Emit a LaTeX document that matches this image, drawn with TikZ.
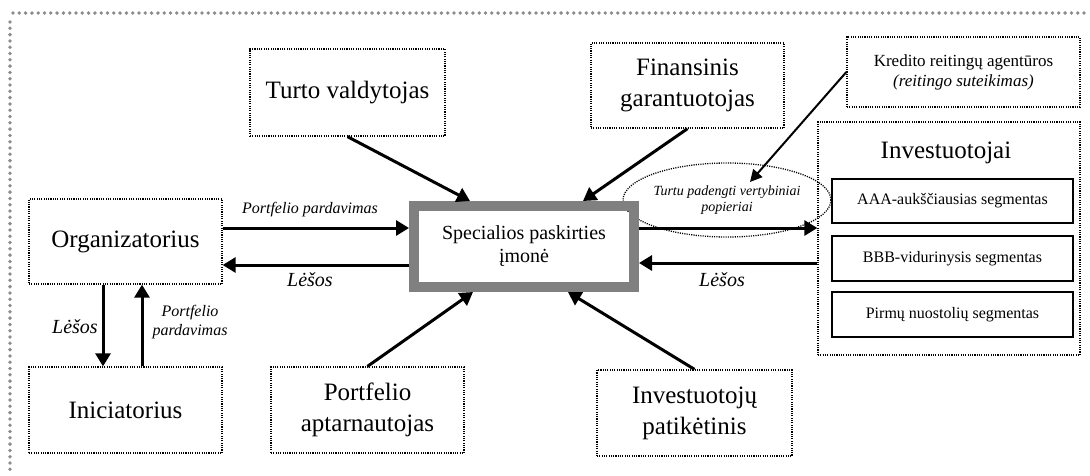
\documentclass[tikz,border=0pt]{standalone}
\usepackage{fontspec}
\setmainfont{Liberation Serif}
\usetikzlibrary{arrows.meta,shapes.geometric,calc}
\definecolor{spvgray}{RGB}{128,128,128}
\definecolor{framegray}{RGB}{140,140,140}
\begin{document}
\begin{tikzpicture}[x=1pt,y=-1pt,
  framedots/.style={draw=framegray,line width=3.8pt,line cap=round,dash pattern=on 0pt off 6.3pt},
  dotbox/.style={draw,line width=1.3pt,dash pattern=on 1.1pt off 1.2pt,inner sep=0pt,align=center},
  segbox/.style={draw,line width=1.8pt,inner sep=0pt,align=center,minimum width=241pt,font=\fontsize{16}{19}\selectfont},
  bigtxt/.style={font=\fontsize{25}{31}\selectfont},
  arr/.style={line width=3pt,-{Triangle[length=13pt,width=15pt]}},
  thinarr/.style={line width=2pt,-{Triangle[length=12pt,width=12pt]}},
  lbl/.style={font=\fontsize{16}{19}\selectfont\itshape,align=center,inner sep=0pt},
  lbig/.style={font=\fontsize{20}{24}\selectfont\itshape,inner sep=0pt}]
\useasboundingbox (0,0) rectangle (1090,475);
% outer frame
\draw[framedots] (13,13) -- (1090,13);
\draw[framedots] (10,22) -- (10,475);
% nodes
\node[dotbox,bigtxt,minimum width=195pt,minimum height=87pt] (tv) at (347.5,92.5) {Turto valdytojas};
\node[dotbox,bigtxt,minimum width=193pt,minimum height=85pt] (fg) at (687.5,85.5) {Finansinis\\garantuotojas};
\node[dotbox,font=\fontsize{17}{20}\selectfont,minimum width=233pt,minimum height=70pt] (kr) at (963.5,72) {Kredito reitingų agentūros\\\textit{(reitingo suteikimas)}};
\node[dotbox,minimum width=262pt,minimum height=233pt] (inv) at (949,238.5) {};
\node[bigtxt,inner sep=0pt] (invt) at (946,153) {Investuotojai};
\node[segbox,minimum height=44pt] (aaa) at (952.5,201) {AAA-aukščiausias segmentas};
\node[segbox,minimum height=45pt] (bbb) at (952.5,258.5) {BBB-vidurinysis segmentas};
\node[segbox,minimum height=45pt] (pir) at (952.5,314.5) {Pirmų nuostolių segmentas};
\node[ellipse,draw,line width=1.3pt,dash pattern=on 1.1pt off 1.2pt,minimum width=169pt,minimum height=74pt,inner sep=0pt,align=center,font=\fontsize{14}{16}\selectfont\itshape] (ell) at (727,200) {Turtu padengti vertybiniai\\popieriai};
\node[dotbox,bigtxt,minimum width=193pt,minimum height=85pt] (org) at (125.5,241.5) {Organizatorius};
\node[dotbox,bigtxt,minimum width=193pt,minimum height=86pt] (ini) at (125.5,410) {Iniciatorius};
\node[dotbox,bigtxt,minimum width=193pt,minimum height=86pt] (pa) at (367.5,410) {Portfelio\\aptarnautojas};
\node[dotbox,bigtxt,minimum width=195pt,minimum height=86pt] (ip) at (694.5,413) {Investuotojų\\patikėtinis};
\node[draw=spvgray,line width=10pt,minimum width=220pt,minimum height=81pt,inner sep=0pt,align=center,font=\fontsize{20}{23}\selectfont] (spv) at (524,246.5) {Specialios paskirties\\įmonė};
% connectors
\draw[arr] (tv.south) -- ($(spv.north west)+(61,0)$);
\draw[arr] (fg.south) -- ($(spv.north west)+(174,0)$);
\draw[arr] (pa.north) -- ($(spv.south west)+(64,0)$);
\draw[arr] (ip.north) -- ($(spv.south west)+(159,0)$);
\draw[thinarr] (kr.west) -- ($(ell.center)+(23,-18)$);
\draw[arr] (org.east |- 0,228) -- (spv.west |- 0,228);
\draw[arr] (spv.west |- 0,265) -- (org.east |- 0,265);
\draw[arr] (spv.east |- 0,228) -- (inv.west |- 0,228);
\draw[arr] (inv.west |- 0,263) -- (spv.east |- 0,263);
\draw[arr] (org.south -| 103,0) -- (ini.north -| 103,0);
\draw[arr] (ini.north -| 142,0) -- (org.south -| 142,0);
% labels
\node[lbl] (l1) at (310,210) {Portfelio pardavimas};
\node[lbig] (l2) at (310,280) {Lėšos};
\node[lbig] (l3) at (722,280) {Lėšos};
\node[lbig] (l4) at (75,327) {Lėšos};
\node[lbl] (l5) at (190,322) {Portfelio\\pardavimas};
\end{tikzpicture}
\end{document}
